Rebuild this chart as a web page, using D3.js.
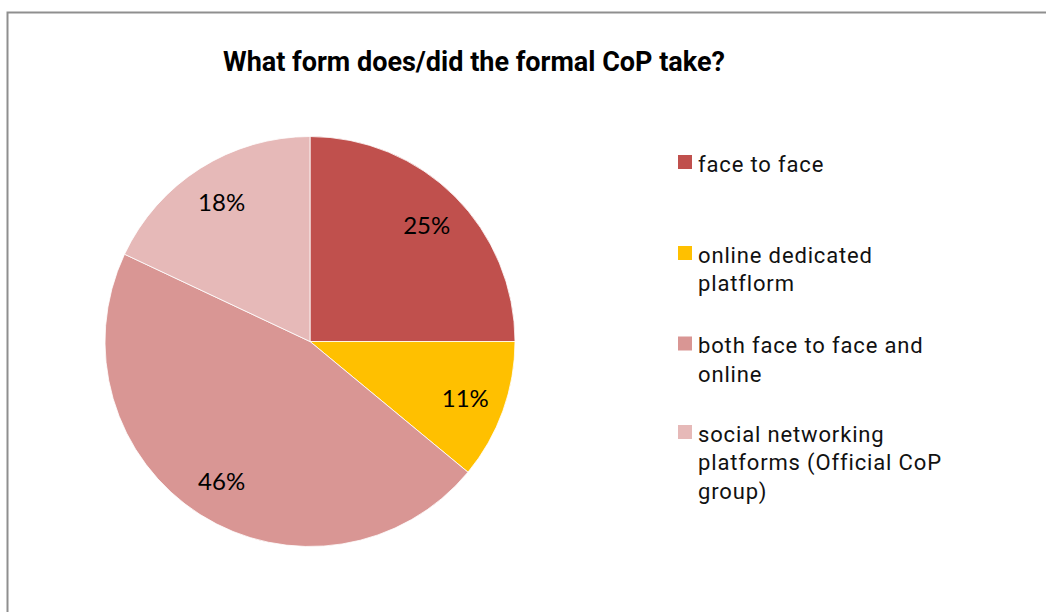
<!DOCTYPE html>
<html>
<head>
<meta charset="utf-8">
<script src="https://cdn.jsdelivr.net/npm/d3@7"></script>
<style>
  html, body { margin: 0; padding: 0; background: #fff; }
  svg { display: block; }
</style>
</head>
<body>
<svg id="chart" width="1046" height="612"></svg>
<script>
// Survey answers: what form the formal community of practice takes
const categories = [
  "face to face",
  "online dedicated platflorm",
  "both face to face and online",
  "social networking platforms (Official CoP group)"
];
const shares = [25, 11, 46, 18];
const legendLines = [
  ["face to face"],
  ["online dedicated", "platflorm"],
  ["both face to face and", "online"],
  ["social networking", "platforms (Official CoP", "group)"]
];
const sliceColors = ["#C0504D", "#FFC000", "#D99694", "#E6B9B8"];
const chartTitle = "What form does/did the formal CoP take?";

const svg = d3.select("#chart");

// Chart frame (runs off the right and bottom edges)
svg.append("rect")
  .attr("x", 7.5).attr("y", 12.5)
  .attr("width", 1100).attr("height", 700)
  .attr("fill", "#fff")
  .attr("stroke", "#8f8f8f")
  .attr("stroke-width", 2);

// Title
svg.append("text")
  .attr("x", 474).attr("y", 71)
  .attr("text-anchor", "middle")
  .attr("font-family", "Roboto")
  .attr("font-weight", "bold")
  .attr("font-size", 27)
  .attr("fill", "#000")
  .text(chartTitle);

// Pie
const cx = 310, cy = 341.5, radius = 205;
const data = categories.map((c, i) => ({ name: c, value: shares[i], color: sliceColors[i] }));
const pie = d3.pie().value(d => d.value).sort(null);
const arc = d3.arc().innerRadius(0).outerRadius(radius);
const labelArc = d3.arc().innerRadius(radius * 0.805).outerRadius(radius * 0.805);

const g = svg.append("g").attr("transform", `translate(${cx},${cy})`);
const arcs = pie(data);

g.selectAll("path.slice")
  .data(arcs)
  .join("path")
  .attr("class", "slice")
  .attr("d", arc)
  .attr("fill", d => d.data.color)
  .attr("stroke", "#fff")
  .attr("stroke-width", 0.8);

g.selectAll("text.pct")
  .data(arcs)
  .join("text")
  .attr("class", "pct")
  .attr("transform", d => `translate(${labelArc.centroid(d)})`)
  .attr("text-anchor", "middle")
  .attr("dy", "0.38em")
  .attr("font-family", "Lato")
  .attr("font-size", 24)
  .attr("fill", "#000")
  .text(d => d3.format(".0f")(d.data.value) + "%");

// Legend
const legendTops = [155, 246, 336.5, 425];
const lineGap = 28.5;
const legend = svg.append("g");
data.forEach((d, i) => {
  const top = legendTops[i];
  legend.append("rect")
    .attr("x", 678).attr("y", top)
    .attr("width", 14).attr("height", 14)
    .attr("fill", d.color);
  const t = legend.append("text")
    .attr("font-family", "Roboto")
    .attr("font-size", 22)
    .attr("letter-spacing", 0.85)
    .attr("fill", "#111");
  legendLines[i].forEach((line, j) => {
    t.append("tspan")
      .attr("x", 698)
      .attr("y", top + 16.5 + j * lineGap)
      .text(line);
  });
});
</script>
</body>
</html>
